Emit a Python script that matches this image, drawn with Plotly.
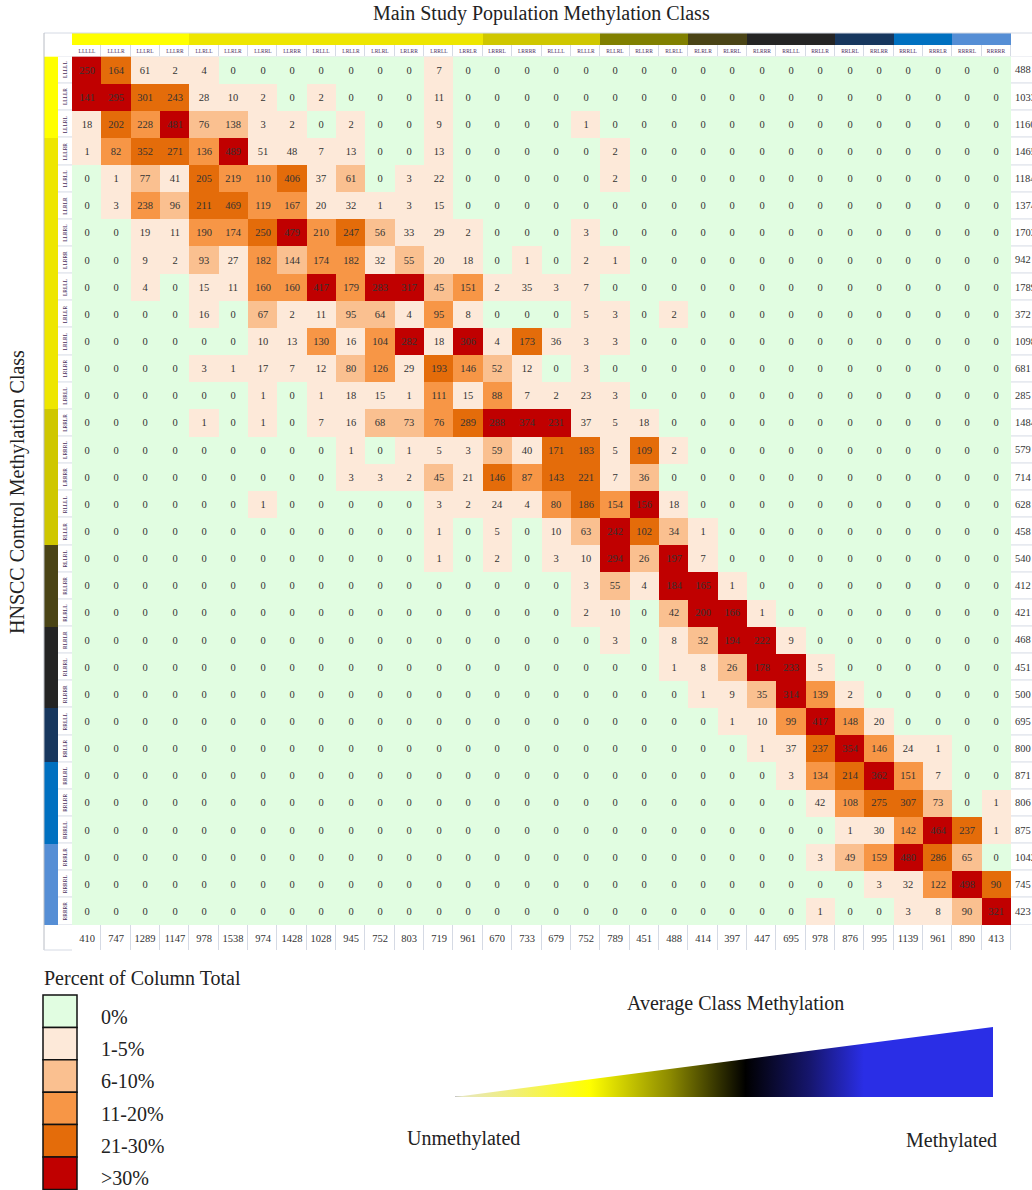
import numpy as np
import plotly.graph_objects as go

W, H = 1032, 1190

col_labels = ["LLLLL", "LLLLR", "LLLRL", "LLLRR", "LLRLL", "LLRLR", "LLRRL", "LLRRR",
              "LRLLL", "LRLLR", "LRLRL", "LRLRR", "LRRLL", "LRRLR", "LRRRL", "LRRRR",
              "RLLLL", "RLLLR", "RLLRL", "RLLRR", "RLRLL", "RLRLR", "RLRRL", "RLRRR",
              "RRLLL", "RRLLR", "RRLRL", "RRLRR", "RRRLL", "RRRLR", "RRRRL", "RRRRR"]
row_labels = ["LLLLL", "LLLLR", "LLLRL", "LLLRR", "LLRLL", "LLRLR", "LLRRL", "LLRRR",
              "LRLLL", "LRLLR", "LRLRL", "LRLRR", "LRRLL", "LRRLR", "LRRRL", "LRRRR",
              "RLLLL", "RLLLR", "RLLRL", "RLLRR", "RLRLL", "RLRLR", "RLRRL", "RLRRR",
              "RRLLL", "RRLLR", "RRLRL", "RRLRR", "RRRLL", "RRRLR", "RRRRL", "RRRRR"]

counts = [
    [250, 164, 61, 2, 4, 0, 0, 0, 0, 0, 0, 0, 7, 0, 0, 0, 0, 0, 0, 0, 0, 0, 0, 0, 0, 0, 0, 0, 0, 0, 0, 0],
    [141, 295, 301, 243, 28, 10, 2, 0, 2, 0, 0, 0, 11, 0, 0, 0, 0, 0, 0, 0, 0, 0, 0, 0, 0, 0, 0, 0, 0, 0, 0, 0],
    [18, 202, 228, 481, 76, 138, 3, 2, 0, 2, 0, 0, 9, 0, 0, 0, 0, 1, 0, 0, 0, 0, 0, 0, 0, 0, 0, 0, 0, 0, 0, 0],
    [1, 82, 352, 271, 136, 489, 51, 48, 7, 13, 0, 0, 13, 0, 0, 0, 0, 0, 2, 0, 0, 0, 0, 0, 0, 0, 0, 0, 0, 0, 0, 0],
    [0, 1, 77, 41, 205, 219, 110, 406, 37, 61, 0, 3, 22, 0, 0, 0, 0, 0, 2, 0, 0, 0, 0, 0, 0, 0, 0, 0, 0, 0, 0, 0],
    [0, 3, 238, 96, 211, 469, 119, 167, 20, 32, 1, 3, 15, 0, 0, 0, 0, 0, 0, 0, 0, 0, 0, 0, 0, 0, 0, 0, 0, 0, 0, 0],
    [0, 0, 19, 11, 190, 174, 250, 479, 210, 247, 56, 33, 29, 2, 0, 0, 0, 3, 0, 0, 0, 0, 0, 0, 0, 0, 0, 0, 0, 0, 0, 0],
    [0, 0, 9, 2, 93, 27, 182, 144, 174, 182, 32, 55, 20, 18, 0, 1, 0, 2, 1, 0, 0, 0, 0, 0, 0, 0, 0, 0, 0, 0, 0, 0],
    [0, 0, 4, 0, 15, 11, 160, 160, 417, 179, 283, 317, 45, 151, 2, 35, 3, 7, 0, 0, 0, 0, 0, 0, 0, 0, 0, 0, 0, 0, 0, 0],
    [0, 0, 0, 0, 16, 0, 67, 2, 11, 95, 64, 4, 95, 8, 0, 0, 0, 5, 3, 0, 2, 0, 0, 0, 0, 0, 0, 0, 0, 0, 0, 0],
    [0, 0, 0, 0, 0, 0, 10, 13, 130, 16, 104, 282, 18, 306, 4, 173, 36, 3, 3, 0, 0, 0, 0, 0, 0, 0, 0, 0, 0, 0, 0, 0],
    [0, 0, 0, 0, 3, 1, 17, 7, 12, 80, 126, 29, 193, 146, 52, 12, 0, 3, 0, 0, 0, 0, 0, 0, 0, 0, 0, 0, 0, 0, 0, 0],
    [0, 0, 0, 0, 0, 0, 1, 0, 1, 18, 15, 1, 111, 15, 88, 7, 2, 23, 3, 0, 0, 0, 0, 0, 0, 0, 0, 0, 0, 0, 0, 0],
    [0, 0, 0, 0, 1, 0, 1, 0, 7, 16, 68, 73, 76, 289, 288, 374, 231, 37, 5, 18, 0, 0, 0, 0, 0, 0, 0, 0, 0, 0, 0, 0],
    [0, 0, 0, 0, 0, 0, 0, 0, 0, 1, 0, 1, 5, 3, 59, 40, 171, 183, 5, 109, 2, 0, 0, 0, 0, 0, 0, 0, 0, 0, 0, 0],
    [0, 0, 0, 0, 0, 0, 0, 0, 0, 3, 3, 2, 45, 21, 146, 87, 143, 221, 7, 36, 0, 0, 0, 0, 0, 0, 0, 0, 0, 0, 0, 0],
    [0, 0, 0, 0, 0, 0, 1, 0, 0, 0, 0, 0, 3, 2, 24, 4, 80, 186, 154, 156, 18, 0, 0, 0, 0, 0, 0, 0, 0, 0, 0, 0],
    [0, 0, 0, 0, 0, 0, 0, 0, 0, 0, 0, 0, 1, 0, 5, 0, 10, 63, 242, 102, 34, 1, 0, 0, 0, 0, 0, 0, 0, 0, 0, 0],
    [0, 0, 0, 0, 0, 0, 0, 0, 0, 0, 0, 0, 1, 0, 2, 0, 3, 10, 294, 26, 197, 7, 0, 0, 0, 0, 0, 0, 0, 0, 0, 0],
    [0, 0, 0, 0, 0, 0, 0, 0, 0, 0, 0, 0, 0, 0, 0, 0, 0, 3, 55, 4, 184, 165, 1, 0, 0, 0, 0, 0, 0, 0, 0, 0],
    [0, 0, 0, 0, 0, 0, 0, 0, 0, 0, 0, 0, 0, 0, 0, 0, 0, 2, 10, 0, 42, 200, 166, 1, 0, 0, 0, 0, 0, 0, 0, 0],
    [0, 0, 0, 0, 0, 0, 0, 0, 0, 0, 0, 0, 0, 0, 0, 0, 0, 0, 3, 0, 8, 32, 194, 222, 9, 0, 0, 0, 0, 0, 0, 0],
    [0, 0, 0, 0, 0, 0, 0, 0, 0, 0, 0, 0, 0, 0, 0, 0, 0, 0, 0, 0, 1, 8, 26, 178, 233, 5, 0, 0, 0, 0, 0, 0],
    [0, 0, 0, 0, 0, 0, 0, 0, 0, 0, 0, 0, 0, 0, 0, 0, 0, 0, 0, 0, 0, 1, 9, 35, 314, 139, 2, 0, 0, 0, 0, 0],
    [0, 0, 0, 0, 0, 0, 0, 0, 0, 0, 0, 0, 0, 0, 0, 0, 0, 0, 0, 0, 0, 0, 1, 10, 99, 417, 148, 20, 0, 0, 0, 0],
    [0, 0, 0, 0, 0, 0, 0, 0, 0, 0, 0, 0, 0, 0, 0, 0, 0, 0, 0, 0, 0, 0, 0, 1, 37, 237, 354, 146, 24, 1, 0, 0],
    [0, 0, 0, 0, 0, 0, 0, 0, 0, 0, 0, 0, 0, 0, 0, 0, 0, 0, 0, 0, 0, 0, 0, 0, 3, 134, 214, 362, 151, 7, 0, 0],
    [0, 0, 0, 0, 0, 0, 0, 0, 0, 0, 0, 0, 0, 0, 0, 0, 0, 0, 0, 0, 0, 0, 0, 0, 0, 42, 108, 275, 307, 73, 0, 1],
    [0, 0, 0, 0, 0, 0, 0, 0, 0, 0, 0, 0, 0, 0, 0, 0, 0, 0, 0, 0, 0, 0, 0, 0, 0, 0, 1, 30, 142, 464, 237, 1],
    [0, 0, 0, 0, 0, 0, 0, 0, 0, 0, 0, 0, 0, 0, 0, 0, 0, 0, 0, 0, 0, 0, 0, 0, 0, 3, 49, 159, 480, 286, 65, 0],
    [0, 0, 0, 0, 0, 0, 0, 0, 0, 0, 0, 0, 0, 0, 0, 0, 0, 0, 0, 0, 0, 0, 0, 0, 0, 0, 0, 3, 32, 122, 498, 90],
    [0, 0, 0, 0, 0, 0, 0, 0, 0, 0, 0, 0, 0, 0, 0, 0, 0, 0, 0, 0, 0, 0, 0, 0, 0, 1, 0, 0, 3, 8, 90, 321],
]

col_totals = [410, 747, 1289, 1147, 978, 1538, 974, 1428, 1028, 945, 752, 803, 719, 961, 670, 733,
              679, 752, 789, 451, 488, 414, 397, 447, 695, 978, 876, 995, 1139, 961, 890, 413]
row_totals = [488, 1033, 1160, 1465, 1184, 1374, 1703, 942, 1789, 372, 1098, 681, 285, 1484, 579, 714,
              628, 458, 540, 412, 421, 468, 451, 500, 695, 800, 871, 806, 875, 1042, 745, 423]

class_colors = ["#E1FDE1", "#FDE9D9", "#FAC090", "#F79646", "#E46C0A", "#C00000"]
class_labels = ["0%", "1-5%", "6-10%", "11-20%", "21-30%", ">30%"]

band_colors = ["#FFFF00", "#EEE600", "#CFC700", "#808000", "#4A4416",
               "#242424", "#17375E", "#0070C0", "#558ED5"]
top_band = [0, 0, 0, 0, 1, 1, 1, 1, 1, 1, 1, 1, 1, 1, 2, 2,
            2, 2, 3, 3, 3, 4, 4, 5, 5, 5, 6, 6, 7, 7, 8, 8]
left_band = [0, 0, 0, 1, 1, 1, 1, 1, 1, 1, 1, 1, 1, 2, 2, 2,
             2, 2, 4, 4, 4, 5, 5, 5, 6, 6, 7, 7, 7, 8, 8, 8]

wedge_scale = [[0.0, "#E6E6C8"], [0.12, "#F2F070"], [0.25, "#FFFF00"], [0.40, "#8C8A00"],
               [0.54, "#000000"], [0.66, "#16166E"], [0.76, "#2A2EE6"], [1.0, "#2A2EE6"]]

SERIF = "Liberation Serif"
BORDER = "#D5DAE4"


def xp(p):
    return p / W


def yp(p):
    return 1 - p / H


def steps(colors):
    n = len(colors)
    cs = []
    for i, c in enumerate(colors):
        cs.append([i / n, c])
        cs.append([(i + 1) / n, c])
    return cs


z = np.array(counts)
assert z.shape == (32, 32)
tot = np.array(col_totals)
pct = np.floor(100.0 * z / tot[None, :] + 0.5)
cls = np.select([z == 0, pct <= 5, pct <= 10, pct <= 20, pct <= 30], [0, 1, 2, 3, 4], default=5)

white = [[0, "#FFFFFF"], [1, "#FFFFFF"]]

fig = go.Figure()

# main matrix
fig.add_trace(go.Heatmap(
    z=cls, x=col_labels, y=row_labels, text=z, texttemplate="%{text}",
    textfont=dict(family=SERIF, size=10.5, color="#333333"),
    colorscale=steps(class_colors), zmin=-0.5, zmax=5.5, showscale=False,
    hoverinfo="skip", xaxis="x", yaxis="y"))

# top colour band
fig.add_trace(go.Heatmap(
    z=[top_band], x=col_labels, y=["band"], colorscale=steps(band_colors),
    zmin=-0.5, zmax=len(band_colors) - 0.5, showscale=False, hoverinfo="skip",
    xaxis="x", yaxis="y2"))

# column label strip
fig.add_trace(go.Heatmap(
    z=[[0] * 32], x=col_labels, y=["lab"], text=[col_labels], texttemplate="%{text}",
    textfont=dict(family=SERIF, size=5.5, color="#4A2D5C"),
    colorscale=white, showscale=False, xgap=1, hoverinfo="skip",
    xaxis="x", yaxis="y3"))

# column totals strip
fig.add_trace(go.Heatmap(
    z=[[0] * 32], x=col_labels, y=["tot"], text=[col_totals], texttemplate="%{text}",
    textfont=dict(family=SERIF, size=10.5, color="#333333"),
    colorscale=white, showscale=False, xgap=1, hoverinfo="skip",
    xaxis="x", yaxis="y4"))

# left colour band
fig.add_trace(go.Heatmap(
    z=[[v] for v in left_band], x=["band"], y=row_labels, colorscale=steps(band_colors),
    zmin=-0.5, zmax=len(band_colors) - 0.5, showscale=False, hoverinfo="skip",
    xaxis="x2", yaxis="y"))

# row label strip
fig.add_trace(go.Heatmap(
    z=[[0] for _ in row_labels], x=["lab"], y=row_labels, colorscale=white,
    showscale=False, ygap=1, hoverinfo="skip", xaxis="x3", yaxis="y"))

# row totals strip
fig.add_trace(go.Heatmap(
    z=[[0] for _ in row_labels], x=["tot"], y=row_labels, colorscale=white,
    showscale=False, ygap=1, hoverinfo="skip", xaxis="x4", yaxis="y"))

# methylation wedge
fig.add_trace(go.Scatter(
    x=[0, 1, 1, 0], y=[0, 0, 1, 0], fill="toself", mode="lines",
    line=dict(width=0, color="rgba(0,0,0,0)"),
    fillgradient=dict(type="horizontal", colorscale=wedge_scale),
    hoverinfo="skip", showlegend=False, xaxis="x5", yaxis="y5"))

hidden = dict(visible=False, showgrid=False, zeroline=False)

fig.update_layout(
    width=W, height=H, margin=dict(l=0, r=0, t=0, b=0),
    paper_bgcolor="white", plot_bgcolor="white", showlegend=False,
    font=dict(family=SERIF, color="#222222"),
    xaxis=dict(domain=[xp(72), xp(1011)], anchor="y", **hidden),
    yaxis=dict(domain=[yp(925), yp(56.4)], anchor="x", autorange="reversed", **hidden),
    yaxis2=dict(domain=[yp(45), yp(33)], anchor="x", **hidden),
    yaxis3=dict(domain=[yp(56.4), yp(45)], anchor="x", **hidden),
    yaxis4=dict(domain=[yp(950), yp(925)], anchor="x", **hidden),
    xaxis2=dict(domain=[xp(44), xp(58)], anchor="y", **hidden),
    xaxis3=dict(domain=[xp(58), xp(72)], anchor="y", **hidden),
    xaxis4=dict(domain=[xp(1011), 1.0], anchor="y", **hidden),
    xaxis5=dict(domain=[xp(455), xp(993)], anchor="y5", range=[0, 1], **hidden),
    yaxis5=dict(domain=[yp(1097), yp(1027)], anchor="x5", range=[0, 1], **hidden),
)

shapes = []
# border backgrounds behind label / total strips
for xr, yr in [("x domain", "y3 domain"), ("x domain", "y4 domain"),
               ("x3 domain", "y domain"), ("x4 domain", "y domain")]:
    shapes.append(dict(type="rect", xref=xr, yref=yr, x0=0, x1=1, y0=0, y1=1,
                       fillcolor=BORDER, line=dict(width=0), layer="below"))
# frame lines
shapes.append(dict(type="line", xref="paper", yref="paper", x0=xp(44), x1=1,
                   y0=yp(33), y1=yp(33), line=dict(color=BORDER, width=1)))
shapes.append(dict(type="line", xref="paper", yref="paper", x0=xp(44), x1=xp(44),
                   y0=yp(33), y1=yp(950), line=dict(color="#B8BCC4", width=1)))
shapes.append(dict(type="line", xref="paper", yref="paper", x0=xp(44), x1=xp(72),
                   y0=yp(950), y1=yp(950), line=dict(color=BORDER, width=1)))
# wedge base shadow
shapes.append(dict(type="line", xref="x5", yref="y5", x0=0, x1=1, y0=0, y1=0,
                   line=dict(color="#B0B0B0", width=1.5), layer="below"))
# legend swatches
for i, c in enumerate(class_colors):
    y0 = 995 + 32.4 * i
    shapes.append(dict(type="rect", xref="paper", yref="paper", x0=xp(43), x1=xp(77),
                       y0=yp(y0), y1=yp(y0 + 32.4), fillcolor=c,
                       line=dict(color="#111111", width=1.5)))
fig.update_layout(shapes=shapes)


def text_ann(text, x, y, size=20, xanchor="center", angle=0, color="#222222"):
    return dict(text=text, x=xp(x), y=yp(y), xref="paper", yref="paper",
                xanchor=xanchor, yanchor="middle", showarrow=False, textangle=angle,
                font=dict(size=size, color=color))


ann = []
ann.append(text_ann("Main Study Population Methylation Class", 541, 14))
ann.append(text_ann("HNSCC Control Methylation Class", 18, 492, angle=-90))
for i, lab in enumerate(row_labels):
    ann.append(dict(text=lab, x=0.5, xref="x3 domain", y=lab, yref="y", showarrow=False,
                    xanchor="center", yanchor="middle",
                    textangle=-90, font=dict(size=5.5, color="#4A2D5C")))
    ann.append(dict(text=str(row_totals[i]), x=xp(1013), xref="paper", xanchor="left",
                    y=lab, yref="y", yanchor="middle", showarrow=False,
                    font=dict(size=10.5, color="#333333")))
ann.append(text_ann("Percent of Column Total", 42, 978, xanchor="left"))
for i, lab in enumerate(class_labels):
    ann.append(text_ann(lab, 99, 1017 + 32.2 * i, xanchor="left"))
ann.append(text_ann("Average Class Methylation", 735, 1003))
ann.append(text_ann("Unmethylated", 463, 1138))
ann.append(text_ann("Methylated", 951, 1140))
fig.update_layout(annotations=ann)

fig.write_html("out.html", config={"displayModeBar": False},
               post_script="document.body.style.margin='0';")
